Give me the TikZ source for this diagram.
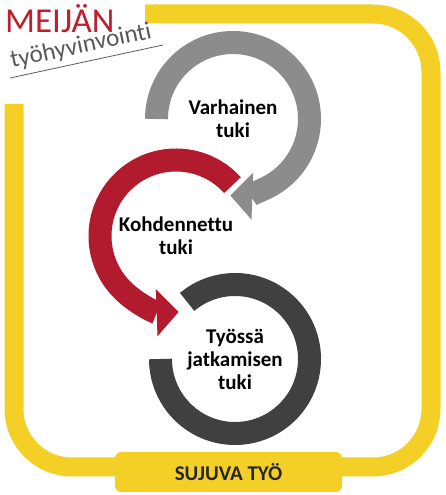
\documentclass[tikz,border=0pt]{standalone}
\usepackage{fontspec}
\setmainfont{Carlito}[Ligatures=NoCommon]
\usepackage{tikz}
\usetikzlibrary{arrows.meta, positioning}
\definecolor{framecolor}{RGB}{244, 208, 38}
\definecolor{earlycolor}{RGB}{140, 140, 140}
\definecolor{targetcolor}{RGB}{178, 26, 46}
\definecolor{continuecolor}{RGB}{64, 64, 64}
\definecolor{logocolor}{RGB}{190, 30, 45}
\definecolor{subcolor}{RGB}{89, 89, 89}

\tikzset{
  stagetext/.style={font=\bfseries\fontsize{21}{23}\selectfont, align=center},
  ring/.style={line width=23pt},
  ringtip/.style={-{Triangle[length=22pt, width=47pt, line width=0pt]}},
  frameline/.style={line width=19pt, framecolor},
}

\begin{document}
\begin{tikzpicture}[x=1pt, y=1pt]
  \useasboundingbox (0,0) rectangle (446,495);

  % Draw the frame
  \draw[frameline] (14,391) -- (14,86) arc[start angle=180, end angle=270, radius=58] -- (130,28);
  \draw[frameline] (330,28) -- (373,28) arc[start angle=270, end angle=360, radius=58]
    -- (431,423) arc[start angle=0, end angle=90, radius=58] -- (145,481);
  \node[fill=framecolor, rounded corners=6pt, minimum width=227pt, minimum height=40pt,
    font=\bfseries\fontsize{21}{21}\selectfont, text=black!85] (sujuva) at (228.5,23) {SUJUVA TYÖ};

  % Logo
  \node[text=logocolor, font=\fontsize{35}{35}\selectfont, anchor=base west, inner sep=0pt] (meijan) at (5,462) {MEIJÄN};
  \node[text=subcolor, font=\fontsize{25}{25}\selectfont, anchor=base west, inner sep=0pt, rotate=12] (tyohyvinvointi) at (12,427) {työhyvinvointi};
  \draw[subcolor, line width=0.8pt] (10,417) -- (163,450);

  % Stages
  \node[stagetext] (varhainen) at (233,376) {Varhainen\\tuki};
  \node[stagetext] (kohdennettu) at (176,259) {Kohdennettu\\tuki};
  \node[stagetext] (jatkaminen) at (235,136) {Työssä\\jatkamisen\\tuki};

  % Draw the rings
  \draw[ring, continuecolor] ([shift={(180:74.5)}]jatkaminen.center) arc[start angle=180, end angle=490, radius=74.5];
  \draw[ring, earlycolor, ringtip] ([shift={(180:76.5)}]varhainen.center) arc[start angle=180, end angle=-92, radius=76.5];
  \draw[ring, targetcolor, ringtip] ([shift={(42:76)}]kohdennettu.center) arc[start angle=42, end angle=272, radius=76];
\end{tikzpicture}
\end{document}
